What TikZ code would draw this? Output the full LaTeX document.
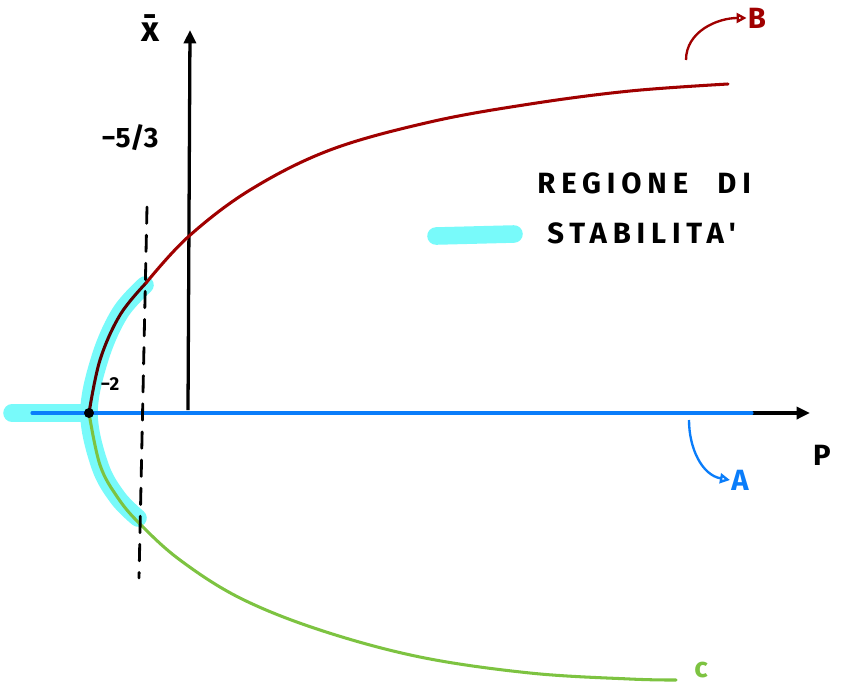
\documentclass[tikz,border=0pt]{standalone}
\usepackage{fontspec}
\setmainfont{Fira Sans}
\newfontfamily\hand[LetterSpace=20]{Fira Sans}
\usetikzlibrary{arrows.meta,positioning}
\definecolor{branchB}{RGB}{160,0,0}
\definecolor{branchBdark}{RGB}{90,0,0}
\definecolor{branchA}{RGB}{10,125,250}
\definecolor{branchC}{RGB}{125,195,65}
\definecolor{stab}{RGB}{120,250,250}
\tikzset{
  axis/.style={line width=2.8pt, -{Triangle[length=4mm,width=3.6mm]}},
  branch/.style={line width=2.6pt, line cap=round},
  glow/.style={line width=15pt, line cap=round, color=stab},
  tag/.style={line width=2pt, -{Triangle[open,length=3mm,width=3mm]}},
  lbl/.style={font=\hand\bfseries\fontsize{25}{28}\selectfont, inner sep=1pt}
}
\begin{document}
\begin{tikzpicture}[x=0.03cm, y=-0.03cm]
  \useasboundingbox (0,0) rectangle (842,686);

  % stability region (highlighter)
  \draw[glow] (12,413) -- (84,413);
  \draw[glow] plot[smooth, tension=0.6] coordinates
    {(145,285) (120,313) (100,358) (89,413) (100,466) (118,498) (138,518)};
  \draw[glow] (436,236) -- (514,234);

  % axes
  \coordinate (O) at (188,413);
  \coordinate (xL) at (32,413);
  \coordinate (xR) at (810,413);
  \coordinate (yB) at (188,410);
  \coordinate (yT) at (190,30);
  \draw[axis] (xL) -- (xR);
  \draw[axis] (yB) -- (yT);

  % branch A
  \draw[branch, branchA] (xL) -- (752,413);

  % branch B
  \draw[branch, branchBdark] plot[smooth, tension=0.6] coordinates
    {(89,413) (100,360) (120,315) (146,283)};
  \draw[branch, branchB] plot[smooth, tension=0.6] coordinates
    {(146,283) (188,237) (250,190) (330,150) (430,122) (530,104) (630,91) (728,84)};

  % branch C
  \draw[branch, branchC] plot[smooth, tension=0.6] coordinates
    {(89,413) (100,465) (118,498) (140,524) (180,560) (240,598) (320,630) (420,657) (530,673) (630,679) (676,680)};

  % tangent at -5/3
  \draw[line width=2.4pt, dash pattern=on 14pt off 10pt, line cap=round] (147,207) -- (139,578);

  % vertex
  \fill (89,413) circle (5);

  % labels
  \node[lbl, font=\bfseries\fontsize{30}{32}\selectfont] (xbar) at (150,28) {\=x};
  \node[lbl] (P) at (822,455) {P};
  \node[lbl, font=\bfseries\fontsize{24}{26}\selectfont] (cut) at (130,138) {−5/3};
  \node[lbl, font=\bfseries\fontsize{16}{18}\selectfont] (vtx) at (110,384) {−2};
  \node[lbl, anchor=west] (reg1) at (536,183) {REGIONE\quad DI};
  \node[lbl, anchor=west] (reg2) at (546,233) {STABILITA'};
  \node[lbl, branchB] (B) at (757,18) {B};
  \node[lbl, branchA] (A) at (740,480) {A};
  \node[lbl, branchC, font=\hand\bfseries\fontsize{24}{26}\selectfont] (C) at (701,670) {c};

  \coordinate (Bs) at (686,60);
  \coordinate (As) at (689,420);
  \draw[tag, branchB] (Bs) to[out=90, in=180] (B.west);
  \draw[tag, branchA] (As) to[out=-90, in=170] (A.west);
\end{tikzpicture}
\end{document}
